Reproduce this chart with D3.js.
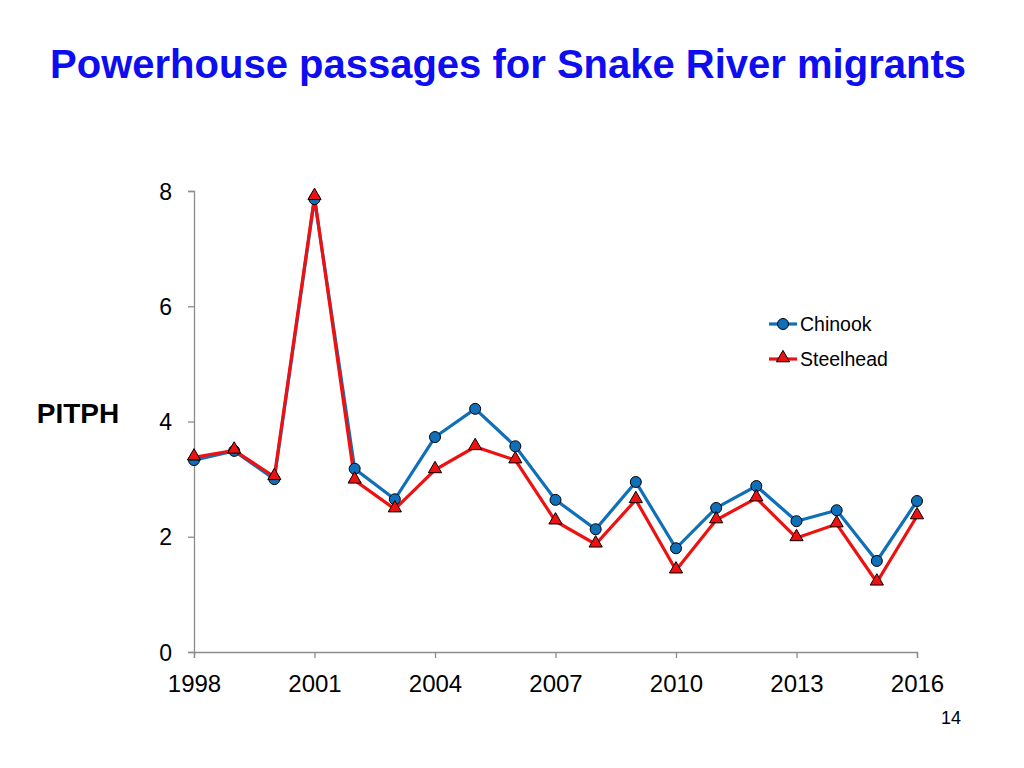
<!DOCTYPE html>
<html><head><meta charset="utf-8">
<script src="https://cdn.jsdelivr.net/npm/d3@7"></script>
<style>body{margin:0;background:#fff;font-family:"Liberation Sans",Arial,sans-serif;}</style>
</head><body>
<svg id="c" width="1024" height="768"></svg>
<script>
const years = d3.range(1998, 2017);
const chinook = [3.33,3.49,3.0,7.86,3.18,2.65,3.73,4.22,3.57,2.64,2.13,2.95,1.8,2.5,2.88,2.27,2.46,1.58,2.62];
const steelhead = [3.38,3.5,3.04,7.9,2.98,2.48,3.16,3.56,3.33,2.27,1.87,2.64,1.42,2.29,2.67,1.98,2.22,1.21,2.36];
const xTicks = [1998,2001,2004,2007,2010,2013,2016];
const yTicks = [0,2,4,6,8];

const svg = d3.select("#c");
const x = d3.scaleLinear().domain([1998,2016]).range([194,917]);
const y = d3.scaleLinear().domain([0,8]).range([652,191]);

svg.append("text").attr("x",508).attr("y",78).attr("text-anchor","middle")
  .attr("font-size",40).attr("font-weight","bold").attr("fill","#0d0df0")
  .text("Powerhouse passages for Snake River migrants");

const xa = svg.append("g").attr("transform","translate(0,652)")
  .call(d3.axisBottom(x).tickValues(xTicks).tickFormat(d3.format("d")).tickSize(6).tickPadding(17));
const ya = svg.append("g").attr("transform","translate(194,0)")
  .call(d3.axisLeft(y).tickValues(yTicks).tickSize(6).tickPadding(16));
[xa,ya].forEach(g=>{
  g.select(".domain").attr("stroke","#8c8c8c").attr("stroke-width",1.3);
  g.selectAll(".tick line").attr("stroke","#8c8c8c").attr("stroke-width",1.3);
  g.selectAll("text").attr("fill","#000").attr("font-family","Liberation Sans, Arial, sans-serif");
});
xa.selectAll("text").attr("font-size",24);
ya.selectAll("text").attr("font-size",23).attr("dy","0.35em");

svg.append("text").attr("x",78).attr("y",423).attr("text-anchor","middle")
  .attr("font-size",28).attr("font-weight","bold").text("PITPH");

const line = d3.line().x((d,i)=>x(years[i])).y(d=>y(d));
const blue = "#0f6fb8", red = "#ee1111";
svg.append("path").datum(chinook).attr("d",line).attr("fill","none").attr("stroke",blue).attr("stroke-width",3.2);
svg.append("path").datum(steelhead).attr("d",line).attr("fill","none").attr("stroke",red).attr("stroke-width",3.2);

svg.append("g").selectAll("circle").data(chinook).join("circle")
  .attr("cx",(d,i)=>x(years[i])).attr("cy",d=>y(d)).attr("r",5.5)
  .attr("fill",blue).attr("stroke","#000").attr("stroke-width",1);
const tri = d3.symbol().type(d3.symbolTriangle).size(75);
svg.append("g").selectAll("path").data(steelhead).join("path")
  .attr("d",tri).attr("transform",(d,i)=>`translate(${x(years[i])},${y(d)-1})`)
  .attr("fill",red).attr("stroke","#000").attr("stroke-width",1);

// legend
const lg = svg.append("g");
const items = [{n:"Chinook",c:blue,t:"c"},{n:"Steelhead",c:red,t:"t"}];
items.forEach((it,i)=>{
  const yy = 324 + i*35;
  lg.append("line").attr("x1",769).attr("x2",797).attr("y1",yy).attr("y2",yy).attr("stroke",it.c).attr("stroke-width",3.2);
  if(it.t==="c") lg.append("circle").attr("cx",783).attr("cy",yy).attr("r",5.5).attr("fill",it.c).attr("stroke","#000");
  else lg.append("path").attr("d",tri).attr("transform",`translate(783,${yy-1})`).attr("fill",it.c).attr("stroke","#000");
  lg.append("text").attr("x",800).attr("y",yy+7).attr("font-size",19.5).text(it.n);
});

svg.append("text").attr("x",961).attr("y",724).attr("text-anchor","end").attr("font-size",18).text("14");
</script>
</body></html>
